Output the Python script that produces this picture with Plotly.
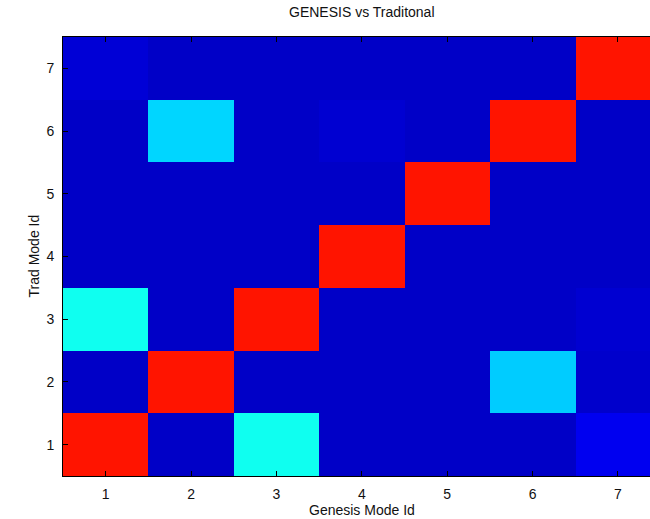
import numpy as np
import plotly.graph_objects as go

# Mode ids on both axes
genesis_modes = [1, 2, 3, 4, 5, 6, 7]
trad_modes = [1, 2, 3, 4, 5, 6, 7]

# Normalised correlation between traditional (rows) and GENESIS (columns) modes
row_1 = [0.855, 0.07, 0.39, 0.07, 0.07, 0.07, 0.11]
row_2 = [0.07, 0.855, 0.07, 0.07, 0.07, 0.325, 0.075]
row_3 = [0.39, 0.07, 0.855, 0.07, 0.07, 0.07, 0.08]
row_4 = [0.07, 0.07, 0.07, 0.855, 0.07, 0.07, 0.07]
row_5 = [0.07, 0.07, 0.07, 0.07, 0.855, 0.07, 0.07]
row_6 = [0.07, 0.335, 0.07, 0.08, 0.07, 0.855, 0.07]
row_7 = [0.085, 0.07, 0.07, 0.07, 0.07, 0.07, 0.855]
values = [row_1, row_2, row_3, row_4, row_5, row_6, row_7]


def jet_scale(n=65):
    stops = []
    for t in np.linspace(0, 1, n):
        r = np.clip(1.5 - abs(4 * t - 3), 0, 1)
        g = np.clip(1.5 - abs(4 * t - 2), 0, 1)
        b = np.clip(1.5 - abs(4 * t - 1), 0, 1)
        stops.append([float(t), f"rgb({int(round(r*255))},{int(round(g*255))},{int(round(b*255))})"])
    return stops


font = dict(family="Liberation Sans, Arial, sans-serif", size=14, color="#111111")

fig = go.Figure(
    go.Heatmap(
        x=genesis_modes,
        y=trad_modes,
        z=values,
        zmin=0,
        zmax=1,
        colorscale=jet_scale(),
        showscale=False,
        hoverinfo="skip",
    )
)

fig.update_layout(
    width=650,
    height=519,
    margin=dict(l=63, r=0, t=37, b=43),
    paper_bgcolor="white",
    plot_bgcolor="white",
    font=font,
    title=dict(
        text="GENESIS vs Traditonal",
        x=0.509,
        xref="paper",
        xanchor="center",
        y=1 - 12 / 519,
        yref="container",
        yanchor="middle",
        font=dict(size=14, color="#111111"),
    ),
    annotations=[
        dict(
            text="Genesis Mode Id",
            xref="paper",
            yref="paper",
            x=0.509,
            y=-(510 - 476) / 439,
            xanchor="center",
            yanchor="middle",
            showarrow=False,
            font=dict(size=14, color="#111111"),
        ),
        dict(
            text="Trad Mode Id",
            xref="paper",
            yref="paper",
            x=-(63 - 33) / 587,
            y=0.5,
            xanchor="center",
            yanchor="middle",
            textangle=-90,
            showarrow=False,
            font=dict(size=14, color="#111111"),
        ),
    ],
)

fig.update_xaxes(
    range=[0.5, 0.5 + 586.5 / 85.3],
    tickmode="array",
    tickvals=genesis_modes,
    ticktext=[str(v) for v in genesis_modes],
    ticks="inside",
    ticklen=5,
    tickcolor="black",
    showline=True,
    linecolor="black",
    linewidth=1,
    mirror="ticks",
    showgrid=False,
    zeroline=False,
    tickfont=font,
    ticklabelstandoff=5,
)
fig.update_yaxes(
    range=[0.5, 7.5],
    tickmode="array",
    tickvals=trad_modes,
    ticktext=[str(v) for v in trad_modes],
    ticks="inside",
    ticklen=5,
    tickcolor="black",
    showline=True,
    linecolor="black",
    linewidth=1,
    mirror=False,
    showgrid=False,
    zeroline=False,
    tickfont=font,
    ticklabelstandoff=5,
)

fig.write_html("out.html")
